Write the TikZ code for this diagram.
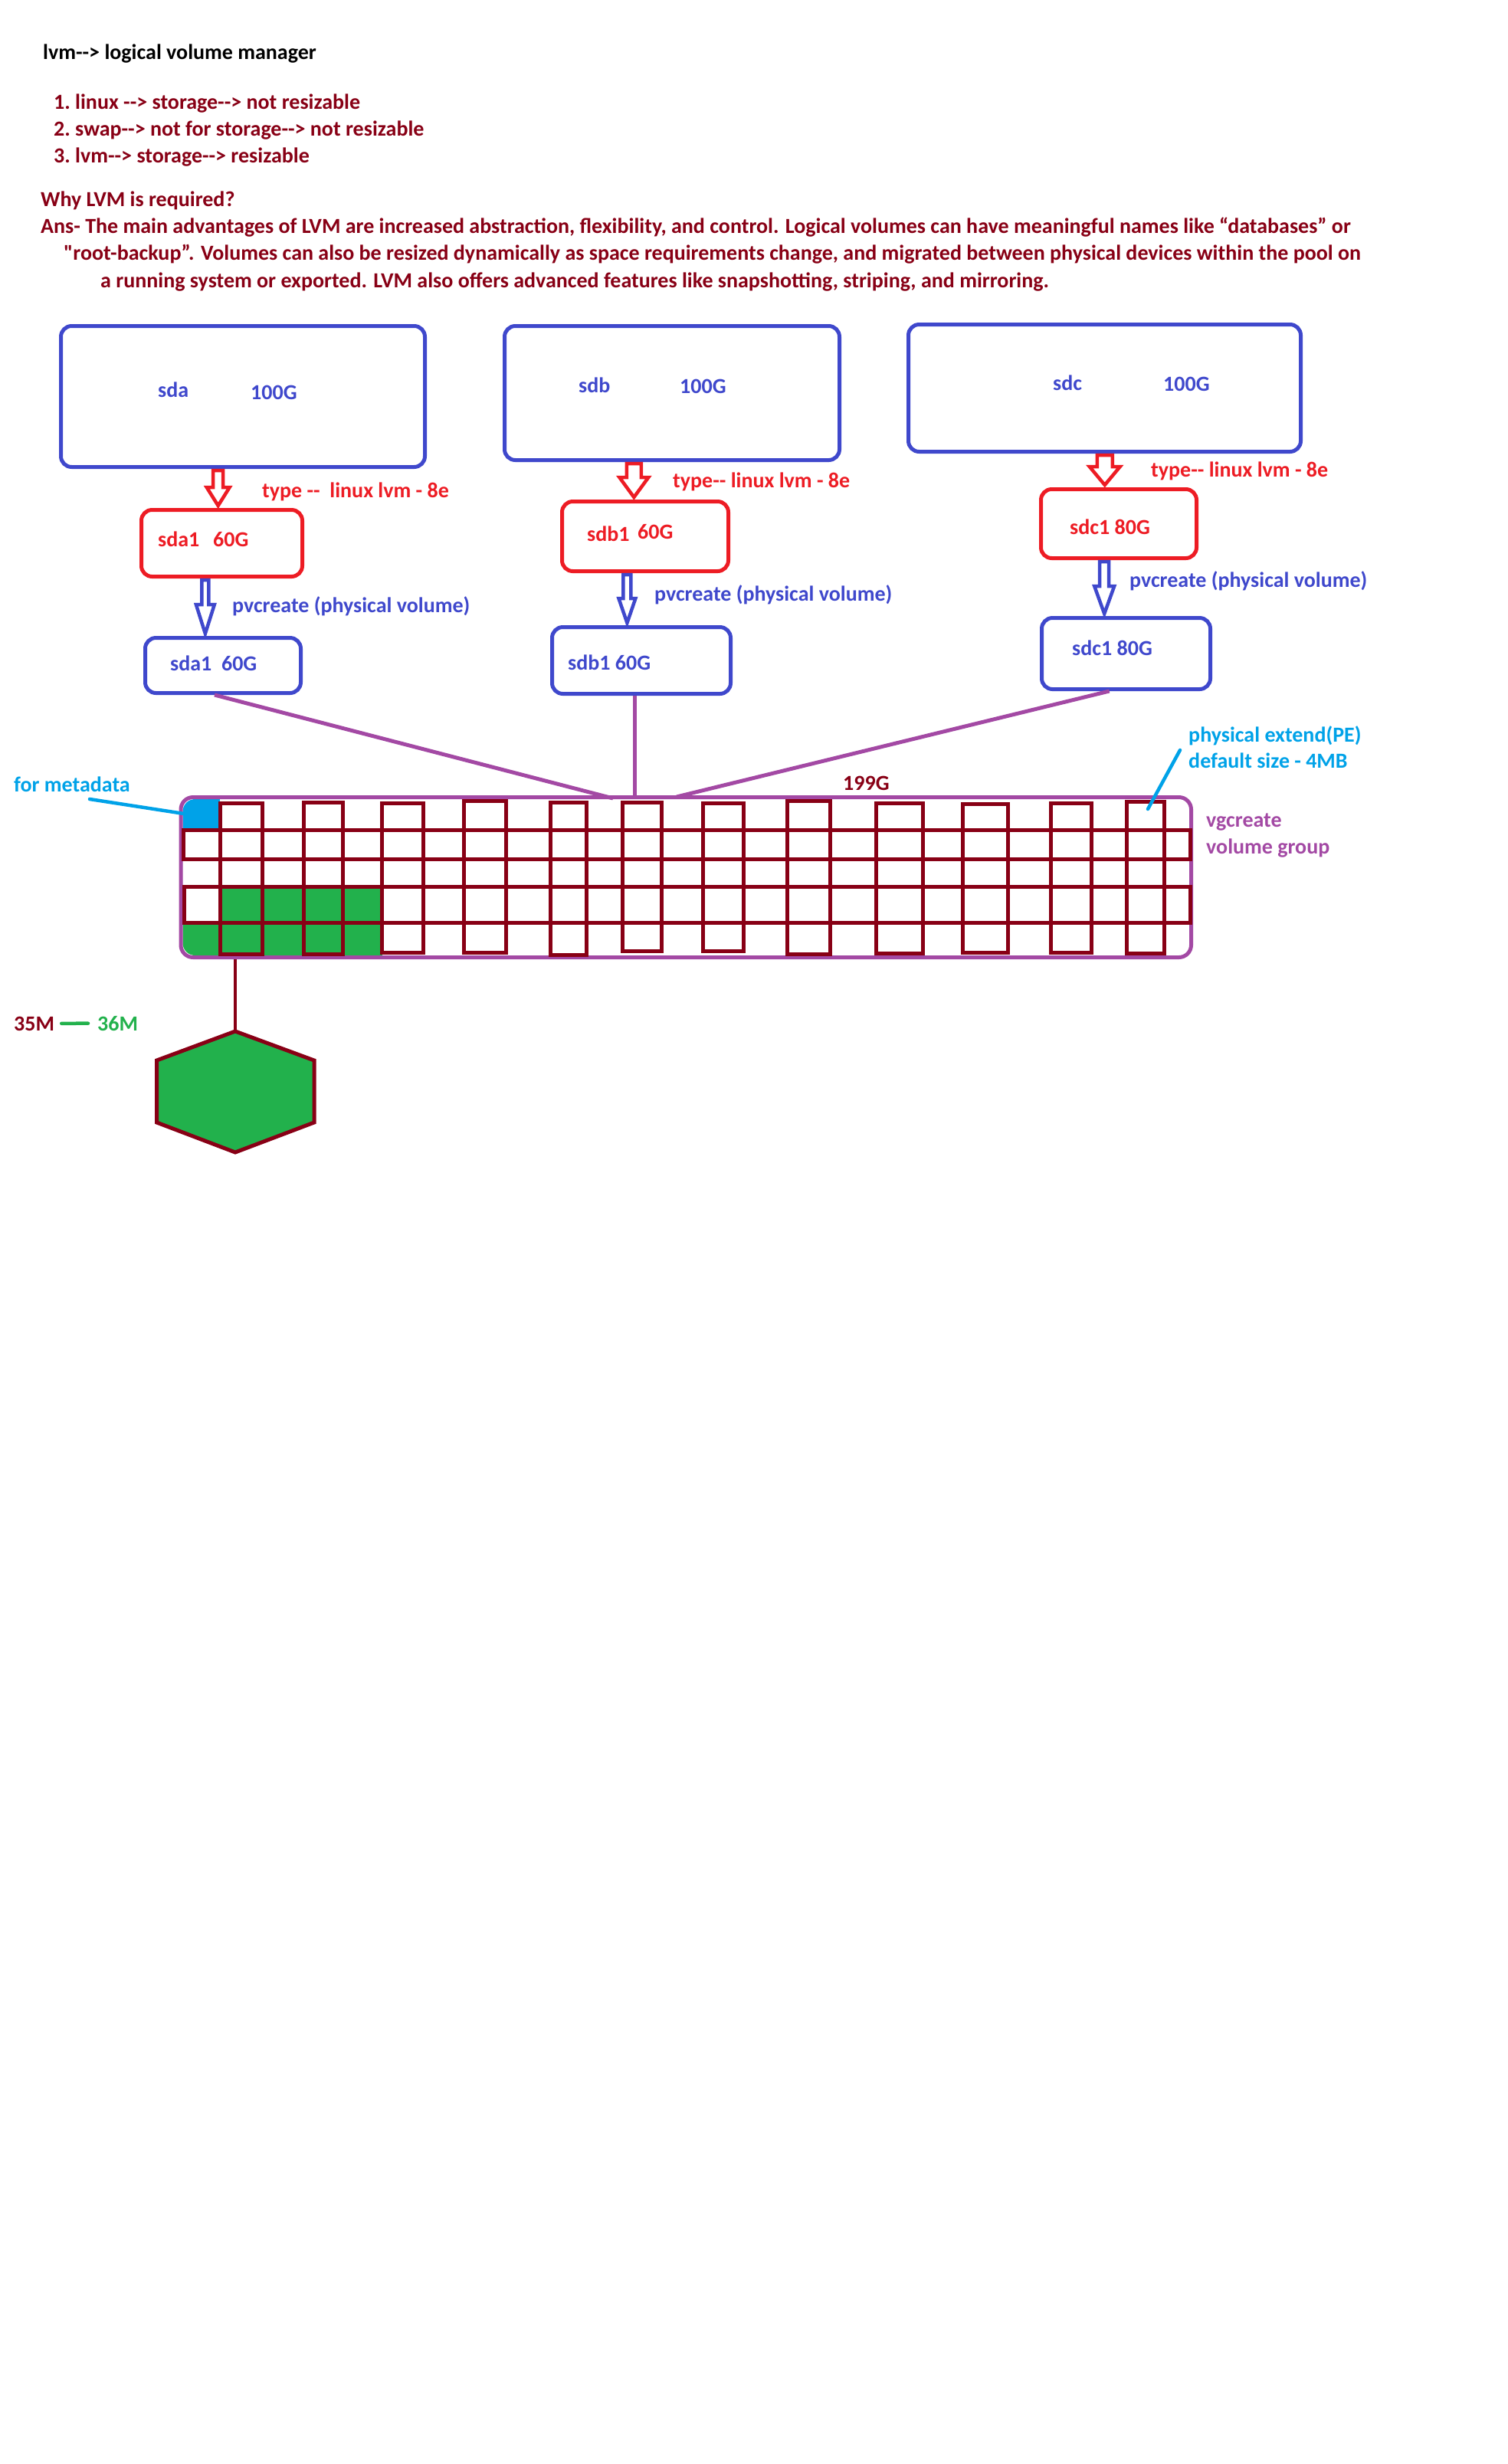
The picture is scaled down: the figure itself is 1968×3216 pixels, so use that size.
\documentclass[tikz,border=0pt]{standalone}
\usepackage{fontspec}
\setmainfont{Carlito}[Ligatures=TeXOff]
\usetikzlibrary{positioning, calc}
\definecolor{diskblue}{RGB}{63, 72, 204}
\definecolor{partred}{RGB}{237, 28, 36}
\definecolor{darkred}{RGB}{136, 0, 21}
\definecolor{vgpurple}{RGB}{163, 73, 164}
\definecolor{metacyan}{RGB}{0, 162, 232}
\definecolor{pegreen}{RGB}{34, 177, 76}

\begin{document}
\begin{tikzpicture}[
    x=1pt, y=-1pt,
    txt/.style={anchor=base west, inner sep=0pt, font=\fontsize{28}{33}\selectfont\bfseries},
    box/.style={rectangle, rounded corners=14pt, line width=5pt, inner sep=0pt},
    blockarrow/.style n args={3}{line width=4.5pt, fill=white, miter limit=10,
        to path={let \p1=(\tikztostart), \p2=(\tikztotarget) in
            (\x1-#1,\y1-2pt) -- (\x1+#1,\y1-2pt) -- (\x1+#1,\y2+#3) -- (\x1+#2,\y2+#3)
            -- (\x1,\y2+3pt) -- (\x1-#2,\y2+#3) -- (\x1-#1,\y2+#3) -- cycle}},
    vgline/.style={vgpurple, line width=5pt},
    cell/.style={darkred, line width=5pt},
    pointer/.style={metacyan, line width=4.5pt, line cap=round}
]
\useasboundingbox (0,0) rectangle (1968,3216);

% Heading
\node[txt] (title) at (56,77) {lvm--> logical volume manager};
\node[txt, darkred] (item1) at (70,142) {1.\ linux --> storage--> not resizable};
\node[txt, darkred] (item2) at (70,177) {2.\ swap--> not for storage--> not resizable};
\node[txt, darkred] (item3) at (70,212) {3.\ lvm--> storage--> resizable};
\node[txt, darkred] (why) at (53,269) {Why LVM is required?};
\node[txt, darkred] (ans1) at (53,304) {Ans- The main advantages of LVM are increased abstraction, flexibility, and control. Logical volumes can have meaningful names like “databases” or};
\node[txt, darkred] (ans2) at (83,339) {"root-backup”. Volumes can also be resized dynamically as space requirements change, and migrated between physical devices within the pool on};
\node[txt, darkred] (ans3) at (131,375) {a running system or exported. LVM also offers advanced features like snapshotting, striping, and mirroring.};

% Disks
\node[box, draw=diskblue, minimum width=475pt, minimum height=184pt] (sda) at (317,517.5) {};
\node[box, draw=diskblue, minimum width=437pt, minimum height=175pt] (sdb) at (877,513) {};
\node[box, draw=diskblue, minimum width=512pt, minimum height=166pt] (sdc) at (1441.5,506.5) {};
\node[txt, diskblue] (sdaname) at (206,518) {sda};
\node[txt, diskblue] (sdasize) at (327,521) {100G};
\node[txt, diskblue] (sdbname) at (755,512) {sdb};
\node[txt, diskblue] (sdbsize) at (887,513) {100G};
\node[txt, diskblue] (sdcname) at (1374,509) {sdc};
\node[txt, diskblue] (sdcsize) at (1518,510) {100G};

% Partitions
\node[box, draw=partred, minimum width=210pt, minimum height=87pt] (sdaone) at (289.5,709) {};
\node[box, draw=partred, minimum width=217pt, minimum height=91pt] (sdbone) at (842,700) {};
\node[box, draw=partred, minimum width=203pt, minimum height=90pt] (sdcone) at (1460,683.5) {};
\node[txt, partred] (sdaonename) at (206,713) {sda1};
\node[txt, partred] (sdaonesize) at (278,713) {60G};
\node[txt, partred] (sdbonename) at (766,706) {sdb1};
\node[txt, partred] (sdbonesize) at (832,703) {60G};
\node[txt, partred] (sdconename) at (1396,697) {sdc1 80G};
\node[txt, partred] (sdatype) at (342,649) {type --\ \ linux lvm - 8e};
\node[txt, partred] (sdbtype) at (878,636) {type-- linux lvm - 8e};
\node[txt, partred] (sdctype) at (1502,622) {type-- linux lvm - 8e};

% Physical volumes
\node[box, draw=diskblue, minimum width=203pt, minimum height=72pt] (sdapv) at (291,868.5) {};
\node[box, draw=diskblue, minimum width=233pt, minimum height=87pt] (sdbpv) at (837,862) {};
\node[box, draw=diskblue, minimum width=220pt, minimum height=93pt] (sdcpv) at (1469.5,853) {};
\node[txt, diskblue] (sdapvname) at (222,875) {sda1\ \ 60G};
\node[txt, diskblue] (sdbpvname) at (741,874) {sdb1 60G};
\node[txt, diskblue] (sdcpvname) at (1399,855) {sdc1 80G};
\node[txt, diskblue] (sdacreate) at (303,799) {pvcreate (physical volume)};
\node[txt, diskblue] (sdbcreate) at (854,784) {pvcreate (physical volume)};
\node[txt, diskblue] (sdccreate) at (1474,766) {pvcreate (physical volume)};

% Block arrows
\draw[partred, blockarrow={6.5pt}{15pt}{27pt}] (sda.south -| sdaone.96) to (sdaone.96);
\draw[partred, blockarrow={9.5pt}{19pt}{29pt}] (sdb.south -| sdbone.107) to (sdbone.107);
\draw[partred, blockarrow={10pt}{20pt}{27pt}] (sdc.south -| sdcone.111) to (sdcone.111);
\draw[diskblue, blockarrow={4.5pt}{12pt}{41pt}] (sdaone.south -| sdapv.121) to (sdapv.121);
\draw[diskblue, blockarrow={5pt}{11pt}{35pt}] (sdbone.south -| sdbpv.112) to (sdbpv.112);
\draw[diskblue, blockarrow={6pt}{13pt}{39pt}] (sdcone.south -| sdcpv.120) to (sdcpv.120);

% Coloured extents, under the grid
\begin{scope}
\clip[rounded corners=16pt] (238.5,1043) rectangle (1552,1247);
\fill[metacyan] (230,1040) rectangle (287,1083);
\fill[pegreen] (287,1158) rectangle (499,1250);
\fill[pegreen] (230,1204) rectangle (287,1250);
\end{scope}

% Volume group
\node[rectangle, rounded corners=16pt, vgline, draw=vgpurple, minimum width=1318.5pt, minimum height=209pt, inner sep=0pt] (vg) at (895.25,1145) {};
\coordinate (vgina) at (800,1042);
\coordinate (vginc) at (883,1040);
\draw[vgline] (sdapv.-106) -- (vgina);
\draw[vgline] (sdbpv.-100) -- (sdbpv.-100 |- vg.north);
\draw[vgline] (sdcpv.-114) -- (vginc);

% Extents
\draw[cell] (239,1083) rectangle (1553,1121);
\draw[cell] (240,1157) rectangle (1553,1204);
\foreach \xa/\xb/\ya/\yb in {287/342/1048/1245, 396/447/1047/1245, 498/552/1048/1243, 605/660/1045/1243,
    718/765/1047/1246, 812/863/1047/1241, 917/970/1048/1241, 1027/1083/1045/1245, 1143/1204/1048/1244,
    1256/1315/1049/1243, 1371/1424/1048/1243, 1470/1519/1046/1244}
    \draw[cell] (\xa,\ya) rectangle (\xb,\yb);

\node[txt, darkred] (vgsize) at (1100,1031) {199G};
\node[txt, vgpurple] (vgcreate) at (1574,1079) {vgcreate};
\node[txt, vgpurple] (vgname) at (1574,1114) {volume group};

% Pointers
\node[txt, metacyan] (metadata) at (18,1033) {for metadata};
\coordinate (metaa) at (117,1043);
\coordinate (metab) at (240,1062);
\draw[pointer] (metaa) -- (metab);
\node[txt, metacyan] (pe) at (1551,968) {physical extend(PE)};
\node[txt, metacyan] (pesize) at (1551,1002) {default size - 4MB};
\coordinate (pea) at (1540,979);
\coordinate (peb) at (1498,1056);
\draw[pointer] (pea) -- (peb);

% Logical volume
\coordinate (hextop) at (307,1346);
\draw[darkred, line width=5pt, fill=pegreen] (hextop) -- (410,1384) -- (410,1465) -- (307,1504) -- (204.5,1465) -- (204.5,1384) -- cycle;
\draw[darkred, line width=4pt] (vg.south -| hextop) -- (hextop);
\node[txt, darkred] (lvfrom) at (18,1345) {35M};
\node[txt, pegreen] (lvto) at (127,1345) {36M};
\draw[pegreen, line width=4.5pt, line cap=round, shorten <=9pt, shorten >=12pt] (lvfrom) -- (lvto);
\end{tikzpicture}
\end{document}
